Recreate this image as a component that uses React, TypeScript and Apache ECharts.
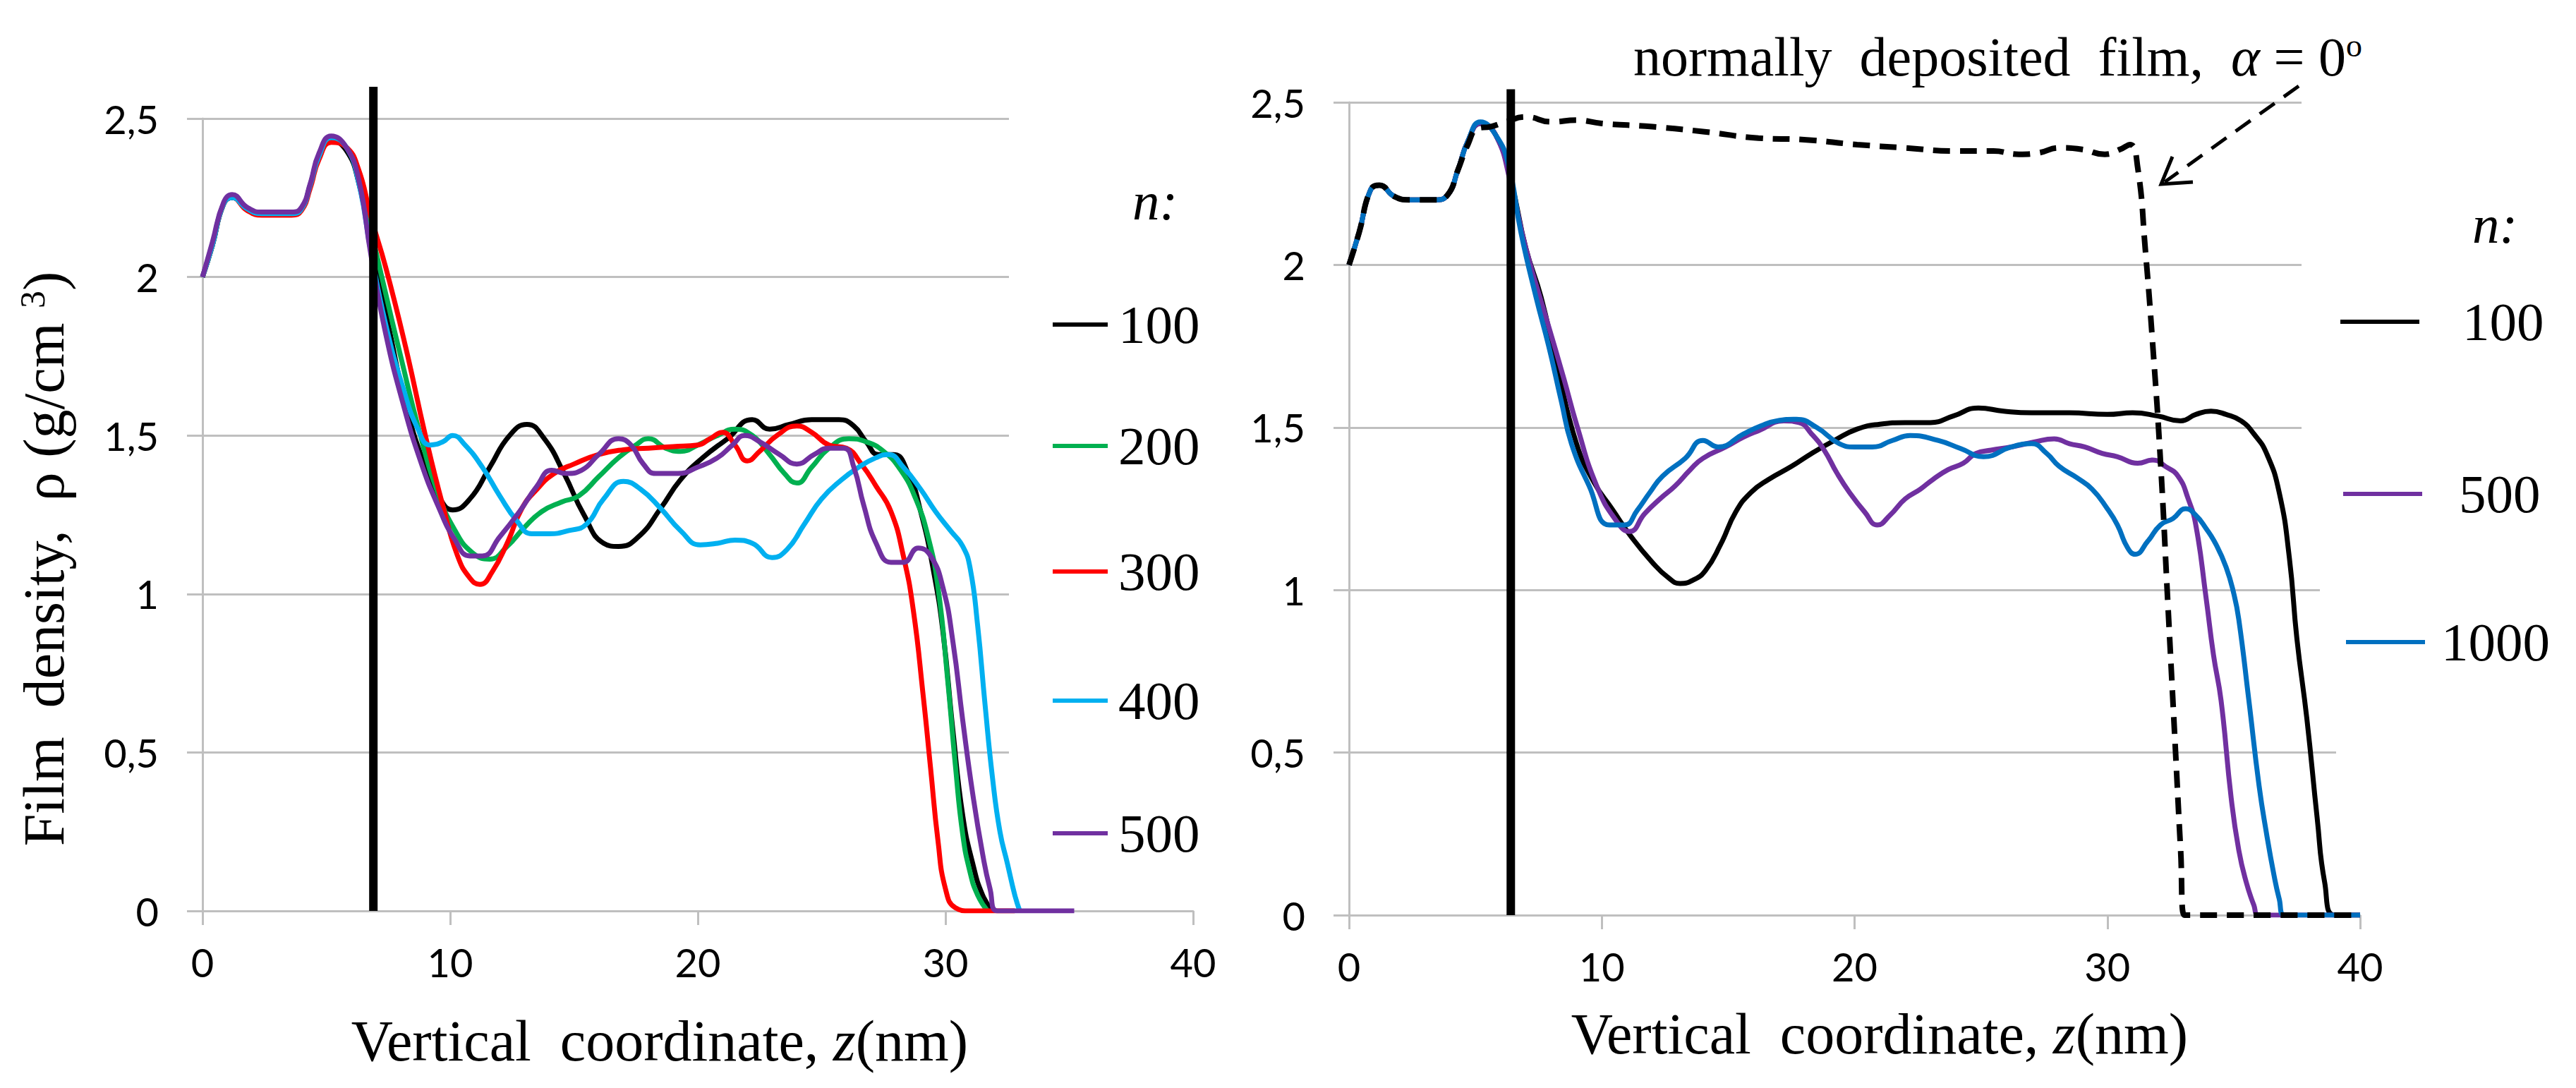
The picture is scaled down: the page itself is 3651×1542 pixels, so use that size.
import React, { useEffect, useRef } from "react";
import * as echarts from "echarts";

// ---------------- data ----------------
const xTicks = [0, 10, 20, 30, 40];
const yTicks = [0, 0.5, 1, 1.5, 2, 2.5];

const leftNames = ["100", "200", "300", "400", "500"];
const leftColors = ["#000000", "#00b050", "#ff0000", "#00b0f0", "#7030a0"];

const left100: [number, number][] = [
  [0, 2.0], [0.4, 2.1], [0.85, 2.23], [1.2, 2.25], [1.8, 2.215], [2.4, 2.2], [3.6, 2.2], [4.0, 2.215],
  [4.35, 2.29], [4.7, 2.38], [5.2, 2.43], [5.8, 2.4], [6.3, 2.3], [6.8, 2.1], [7.5, 1.85], [8.2, 1.6],
  [9.0, 1.4], [9.6, 1.3], [10.1, 1.265], [10.8, 1.3], [11.6, 1.4], [12.4, 1.5], [13.1, 1.535], [13.8, 1.49],
  [14.6, 1.38], [15.4, 1.25], [16.2, 1.16], [16.8, 1.15], [17.6, 1.18], [18.5, 1.27], [19.3, 1.36], [20.2, 1.43],
  [21.2, 1.49], [22.2, 1.55], [22.9, 1.52], [23.7, 1.535], [24.6, 1.55], [25.7, 1.55], [26.3, 1.53], [26.8, 1.48],
  [27.3, 1.44], [27.9, 1.44], [28.5, 1.38], [29.0, 1.26], [29.5, 1.08], [29.9, 0.88], [30.3, 0.57], [30.7, 0.3],
  [31.1, 0.15], [31.5, 0.05], [31.9, 0.0],
];
const left200: [number, number][] = [
  [0, 2.0], [0.4, 2.1], [0.85, 2.23], [1.2, 2.25], [1.8, 2.215], [2.4, 2.2], [3.6, 2.2], [4.0, 2.215],
  [4.35, 2.29], [4.7, 2.38], [5.2, 2.43], [5.8, 2.41], [6.3, 2.32], [6.8, 2.15], [7.3, 1.98], [8.0, 1.75],
  [8.8, 1.5], [9.5, 1.32], [10.2, 1.2], [10.9, 1.13], [11.6, 1.11], [12.3, 1.15], [13.0, 1.21], [13.7, 1.26],
  [14.5, 1.29], [15.2, 1.31], [16.0, 1.37], [16.8, 1.43], [17.5, 1.47], [18.0, 1.49], [18.7, 1.46], [19.3, 1.45],
  [20.0, 1.47], [20.8, 1.5], [21.5, 1.52], [22.2, 1.5], [22.9, 1.44], [23.5, 1.38], [24.0, 1.35], [24.6, 1.4],
  [25.3, 1.46], [26.1, 1.49], [26.8, 1.48], [27.5, 1.45], [28.2, 1.39], [28.8, 1.3], [29.3, 1.18], [29.7, 1.02],
  [30.1, 0.72], [30.4, 0.46], [30.7, 0.24], [31.0, 0.12], [31.3, 0.05], [31.7, 0.0],
];
const left300: [number, number][] = [
  [0, 2.0], [0.4, 2.1], [0.85, 2.23], [1.2, 2.25], [1.8, 2.21], [2.4, 2.195], [3.6, 2.195], [4.0, 2.21],
  [4.35, 2.28], [4.7, 2.37], [5.2, 2.425], [5.8, 2.41], [6.3, 2.34], [6.8, 2.19], [7.4, 2.03], [8.2, 1.78],
  [9.0, 1.5], [9.7, 1.28], [10.3, 1.12], [10.8, 1.05], [11.2, 1.03], [11.7, 1.07], [12.3, 1.16], [12.9, 1.27],
  [13.5, 1.33], [14.2, 1.38], [15.0, 1.41], [16.0, 1.44], [17.0, 1.455], [18.0, 1.46], [19.0, 1.465], [20.0, 1.47],
  [20.5, 1.49], [21.0, 1.51], [21.5, 1.47], [22.0, 1.42], [22.5, 1.45], [23.2, 1.5], [24.0, 1.53], [24.6, 1.51],
  [25.3, 1.47], [26.0, 1.46], [26.6, 1.41], [27.2, 1.34], [27.8, 1.26], [28.3, 1.12], [28.7, 0.95], [29.1, 0.68],
  [29.4, 0.45], [29.7, 0.22], [30.0, 0.07], [30.4, 0.01], [31.0, 0.0], [32.8, 0.0],
];
const left400: [number, number][] = [
  [0, 2.0], [0.4, 2.1], [0.85, 2.23], [1.2, 2.25], [1.8, 2.215], [2.4, 2.2], [3.6, 2.2], [4.0, 2.215],
  [4.35, 2.29], [4.7, 2.38], [5.2, 2.44], [5.8, 2.41], [6.3, 2.3], [6.8, 2.08], [7.4, 1.85], [8.1, 1.65],
  [8.7, 1.52], [9.2, 1.47], [9.7, 1.48], [10.1, 1.5], [10.6, 1.47], [11.3, 1.4], [12.0, 1.31], [12.7, 1.23],
  [13.3, 1.19], [14.0, 1.19], [14.8, 1.2], [15.5, 1.22], [16.2, 1.3], [17.0, 1.355], [17.7, 1.33], [18.5, 1.27],
  [19.3, 1.2], [20.1, 1.155], [20.8, 1.16], [21.5, 1.17], [22.2, 1.16], [23.0, 1.115], [23.6, 1.14], [24.3, 1.22],
  [25.0, 1.3], [25.8, 1.36], [26.5, 1.4], [27.2, 1.43], [27.7, 1.44], [28.3, 1.4], [29.0, 1.33], [29.6, 1.26],
  [30.2, 1.2], [30.7, 1.15], [31.0, 1.08], [31.3, 0.9], [31.6, 0.65], [31.9, 0.42], [32.2, 0.25], [32.5, 0.15],
  [32.8, 0.05], [33.0, 0.0],
];
const left500: [number, number][] = [
  [0, 2.0], [0.4, 2.11], [0.85, 2.235], [1.2, 2.26], [1.8, 2.22], [2.4, 2.205], [3.6, 2.205], [4.0, 2.22],
  [4.35, 2.295], [4.7, 2.39], [5.2, 2.445], [5.8, 2.41], [6.3, 2.31], [6.8, 2.07], [7.4, 1.82], [8.1, 1.6],
  [8.8, 1.42], [9.5, 1.28], [10.2, 1.17], [10.8, 1.12], [11.3, 1.12], [12.0, 1.18], [12.8, 1.26], [13.5, 1.34],
  [14.1, 1.39], [14.7, 1.38], [15.3, 1.39], [16.0, 1.44], [16.8, 1.49], [17.3, 1.47], [17.8, 1.41], [18.3, 1.38],
  [19.2, 1.38], [20.0, 1.4], [20.8, 1.43], [21.4, 1.47], [21.9, 1.5], [22.5, 1.48], [23.3, 1.44], [24.0, 1.41],
  [24.7, 1.44], [25.3, 1.46], [25.9, 1.46], [26.3, 1.4], [26.7, 1.28], [27.2, 1.16], [27.8, 1.1], [28.3, 1.1],
  [28.9, 1.145], [29.4, 1.12], [29.9, 1.02], [30.3, 0.85], [30.7, 0.6], [31.1, 0.37], [31.5, 0.18], [31.8, 0.07],
  [32.1, 0.0], [35.2, 0.0],
];
const leftMarkerZ = 6.9;
const leftMarkerTop = 2.6;

const rightNames = ["100", "500", "1000"];
const rightColors = ["#000000", "#7030a0", "#0070c0"];

const right100: [number, number][] = [
  [0, 2.0], [0.4, 2.1], [0.85, 2.23], [1.2, 2.245], [1.8, 2.21], [2.4, 2.2], [3.4, 2.2], [3.9, 2.215],
  [4.3, 2.29], [4.7, 2.38], [5.2, 2.435], [5.8, 2.4], [6.4, 2.26], [7.0, 2.05], [7.6, 1.9], [8.2, 1.7],
  [9.0, 1.45], [9.7, 1.33], [10.4, 1.25], [11.2, 1.16], [12.0, 1.085], [12.6, 1.04], [13.1, 1.02], [13.6, 1.03],
  [14.1, 1.06], [14.7, 1.14], [15.3, 1.24], [15.9, 1.3], [16.6, 1.34], [17.5, 1.38], [18.3, 1.42], [19.2, 1.46],
  [20.1, 1.495], [21.0, 1.51], [22.0, 1.515], [23.0, 1.515], [23.9, 1.535], [24.9, 1.56], [25.9, 1.55], [27.0, 1.545],
  [28.5, 1.545], [30.0, 1.54], [31.0, 1.545], [32.0, 1.535], [32.9, 1.52], [33.5, 1.54], [34.1, 1.55], [34.7, 1.54],
  [35.3, 1.52], [35.8, 1.48], [36.3, 1.42], [36.8, 1.3], [37.2, 1.1], [37.5, 0.85], [37.9, 0.6], [38.3, 0.3],
  [38.6, 0.1], [39.0, 0.0], [40, 0.0],
];
const right500: [number, number][] = [
  [0, 2.0], [0.4, 2.1], [0.85, 2.23], [1.2, 2.245], [1.8, 2.21], [2.4, 2.2], [3.4, 2.2], [3.9, 2.215],
  [4.3, 2.29], [4.7, 2.38], [5.2, 2.435], [5.8, 2.4], [6.4, 2.25], [7.0, 2.05], [7.9, 1.81], [8.5, 1.65],
  [9.0, 1.51], [9.8, 1.32], [10.6, 1.21], [11.1, 1.18], [11.7, 1.235], [12.3, 1.28], [12.9, 1.32], [13.5, 1.37],
  [14.0, 1.405], [14.9, 1.44], [15.6, 1.47], [16.2, 1.49], [17.2, 1.52], [17.8, 1.515], [18.3, 1.48], [18.8, 1.43],
  [19.3, 1.36], [19.8, 1.3], [20.4, 1.24], [20.9, 1.2], [21.4, 1.23], [22.0, 1.28], [22.6, 1.31], [23.1, 1.34],
  [23.7, 1.37], [24.3, 1.39], [24.8, 1.42], [25.4, 1.43], [26.2, 1.44], [27.1, 1.455], [27.9, 1.465], [28.5, 1.45],
  [29.1, 1.44], [29.8, 1.42], [30.4, 1.41], [31.2, 1.39], [31.8, 1.4], [32.3, 1.38], [32.8, 1.35], [33.2, 1.28],
  [33.5, 1.2], [33.9, 0.98], [34.2, 0.8], [34.5, 0.66], [34.9, 0.36], [35.2, 0.2], [35.5, 0.1], [35.8, 0.03],
  [36.0, 0.0], [40, 0.0],
];
const right1000: [number, number][] = [
  [0, 2.0], [0.4, 2.1], [0.85, 2.23], [1.2, 2.245], [1.8, 2.21], [2.4, 2.2], [3.4, 2.2], [3.9, 2.215],
  [4.3, 2.29], [4.7, 2.38], [5.2, 2.44], [5.8, 2.4], [6.3, 2.31], [6.8, 2.1], [7.4, 1.9], [7.9, 1.75],
  [8.4, 1.58], [8.8, 1.45], [9.5, 1.32], [10.3, 1.2], [10.9, 1.2], [11.4, 1.245], [11.9, 1.3], [12.4, 1.35],
  [13.3, 1.405], [14.0, 1.46], [14.6, 1.44], [15.6, 1.48], [16.3, 1.505], [16.9, 1.52], [17.7, 1.525], [18.5, 1.5],
  [19.4, 1.45], [20.0, 1.44], [20.7, 1.44], [21.5, 1.46], [22.2, 1.475], [23.3, 1.46], [24.2, 1.435], [25.1, 1.41],
  [26.2, 1.44], [27.0, 1.45], [27.6, 1.42], [28.1, 1.38], [28.8, 1.345], [29.4, 1.31], [30.0, 1.25], [30.4, 1.2],
  [30.8, 1.13], [31.1, 1.11], [31.6, 1.15], [32.1, 1.2], [32.6, 1.22], [33.1, 1.25], [33.5, 1.23], [33.9, 1.19],
  [34.3, 1.14], [34.7, 1.07], [35.0, 0.99], [35.2, 0.91], [35.6, 0.66], [36.0, 0.4], [36.3, 0.25], [36.6, 0.12],
  [36.8, 0.05], [37.0, 0.0], [40, 0.0],
];
const rightNormal: [number, number][] = [
  [0, 2.0], [0.4, 2.1], [0.85, 2.23], [1.2, 2.245], [1.8, 2.21], [2.4, 2.2], [3.4, 2.2], [3.9, 2.215],
  [4.3, 2.29], [4.7, 2.37], [5.1, 2.42], [5.6, 2.425], [6.2, 2.44], [7.0, 2.455], [8.0, 2.44], [9.0, 2.445],
  [10.0, 2.435], [12.0, 2.425], [14.0, 2.41], [16.2, 2.39], [18.0, 2.385], [20.1, 2.37], [22.0, 2.36], [24.0, 2.35],
  [25.5, 2.35], [26.5, 2.34], [27.3, 2.345], [28.1, 2.36], [29.0, 2.355], [29.9, 2.34], [30.5, 2.355], [30.9, 2.37],
  [31.2, 2.3], [31.5, 2.05], [31.8, 1.75], [32.1, 1.4], [32.4, 0.95], [32.7, 0.5], [32.9, 0.2], [33.05, 0.0],
  [40, 0.0],
];
const rightMarkerZ = 6.4;
const rightMarkerTop = 2.54;

// ---------------- styling ----------------
const SERIF = "Liberation Serif, serif";
const SANS = "Lato, sans-serif";
const GRID_GRAY = "#bfbfbf";
const fmt = (v: number) => String(v).replace(".", ",");

function xAxisFor(gridIndex: number) {
  return {
    type: "value",
    gridIndex,
    min: xTicks[0],
    max: xTicks[xTicks.length - 1],
    interval: 10,
    axisLine: { show: true, lineStyle: { color: GRID_GRAY, width: 3 } },
    axisTick: { show: true, length: 20, lineStyle: { color: GRID_GRAY, width: 3 } },
    splitLine: { show: false },
    axisLabel: { fontFamily: SANS, fontSize: 56, color: "#000", margin: 44, formatter: fmt },
  };
}
function yAxisFor(gridIndex: number) {
  return {
    type: "value",
    gridIndex,
    min: yTicks[0],
    max: yTicks[yTicks.length - 1],
    interval: 0.5,
    axisLine: { show: true, lineStyle: { color: GRID_GRAY, width: 3 } },
    axisTick: { show: true, length: 22, lineStyle: { color: GRID_GRAY, width: 3 } },
    splitLine: { show: true, lineStyle: { color: GRID_GRAY, width: 3 } },
    axisLabel: { fontFamily: SANS, fontSize: 56, color: "#000", margin: 62, formatter: fmt },
  };
}

function curve(name: string, color: string, data: [number, number][], idx: number, extra: any = {}) {
  return {
    type: "line",
    name,
    xAxisIndex: idx,
    yAxisIndex: idx,
    data,
    color,
    symbol: "none",
    showSymbol: false,
    smooth: 0.5,
    lineStyle: { width: 7, color },
    z: 2,
    ...extra,
  };
}

function legendItem(name: string, left: number, cy: number, w: number, pad: number) {
  return {
    orient: "vertical",
    left,
    top: cy - 39,
    padding: 0,
    itemGap: 0,
    itemWidth: w,
    itemHeight: 6,
    icon: "rect",
    selectedMode: false,
    data: [name],
    textStyle: { fontFamily: SERIF, fontSize: 77, lineHeight: 78, color: "#000", padding: [0, 0, 0, pad] },
  };
}

export default function App() {
  const ref = useRef<HTMLDivElement>(null);
  useEffect(() => {
    if (!ref.current) return;
    const chart = echarts.init(ref.current, null, { renderer: "svg" });

    const leftData = [left100, left200, left300, left400, left500];
    const rightData = [right100, right500, right1000];

    const series: any[] = [];
    leftNames.forEach((n, i) => series.push(curve(n, leftColors[i], leftData[i], 0)));
    series.push({
      type: "line", name: "marker-left", xAxisIndex: 0, yAxisIndex: 0,
      data: [[leftMarkerZ, 0], [leftMarkerZ, leftMarkerTop]],
      symbol: "none", clip: false, silent: true, lineStyle: { width: 12, color: "#000" }, color: "#000", z: 4,
    });
    rightNames.forEach((n, i) => series.push(curve(n, rightColors[i], rightData[i], 1)));
    series.push(curve("normal", "#000", rightNormal, 1, {
      lineStyle: { width: 8, color: "#000", type: [24, 14] }, z: 3,
    }));
    series.push({
      type: "line", name: "marker-right", xAxisIndex: 1, yAxisIndex: 1,
      data: [[rightMarkerZ, 0], [rightMarkerZ, rightMarkerTop]],
      symbol: "none", clip: false, silent: true, lineStyle: { width: 12, color: "#000" }, color: "#000", z: 4,
    });

    const leftLegendY = [460, 632, 810, 993, 1181];
    const rightLegendY = [456, 700, 910];
    const rightLegendLeft = [3317, 3321, 3325];
    const rightLegendPad = [56, 47, 18];

    const legends: any[] = [];
    leftNames.forEach((n, i) => legends.push(legendItem(n, 1492, leftLegendY[i], 78, 10)));
    rightNames.forEach((n, i) => legends.push(legendItem(n, rightLegendLeft[i], rightLegendY[i], 112, rightLegendPad[i])));

    const titleRich = {
      a: { fontFamily: SERIF, fontSize: 82, fill: "#000" },
      i: { fontFamily: SERIF, fontSize: 82, fontStyle: "italic", fill: "#000" },
      s: { fontFamily: SERIF, fontSize: 50, fill: "#000", verticalAlign: "top", padding: [0, 0, 30, 0] },
    };

    const option: any = {
      animation: false,
      backgroundColor: "#ffffff",
      grid: [
        { left: 287, top: 168, width: 1404, height: 1123, containLabel: false },
        { left: 1912, top: 145, width: 1433, height: 1152, containLabel: false },
      ],
      xAxis: [xAxisFor(0), xAxisFor(1)],
      yAxis: [yAxisFor(0), yAxisFor(1)],
      legend: legends,
      series,
      graphic: [
        // legend boxes hiding the gridlines
        { type: "rect", z: 1, silent: true, shape: { x: 1430, y: 120, width: 280, height: 1150 }, style: { fill: "#fff" } },
        { type: "rect", z: 1, silent: true, shape: { x: 3262, y: 100, width: 110, height: 720 }, style: { fill: "#fff" } },
        { type: "rect", z: 1, silent: true, shape: { x: 3288, y: 820, width: 90, height: 230 }, style: { fill: "#fff" } },
        { type: "rect", z: 1, silent: true, shape: { x: 3311, y: 1050, width: 60, height: 120 }, style: { fill: "#fff" } },
        // axis titles
        {
          type: "text", x: 62, y: 792, rotation: Math.PI / 2, z: 10,
          style: {
            text: "{a|Film  density,  ρ (g/cm }{s|3}{a|)}",
            fontFamily: SERIF, fontSize: 82,
            rich: titleRich, align: "center", verticalAlign: "middle",
          },
        },
        {
          type: "text", x: 935, y: 1475, z: 10,
          style: { text: "{a|Vertical  coordinate, }{i|z}{a|(nm)}", fontFamily: SERIF, fontSize: 82, rich: titleRich, align: "center", verticalAlign: "middle" },
        },
        {
          type: "text", x: 2664, y: 1465, z: 10,
          style: { text: "{a|Vertical  coordinate, }{i|z}{a|(nm)}", fontFamily: SERIF, fontSize: 82, rich: titleRich, align: "center", verticalAlign: "middle" },
        },
        // legend headers
        {
          type: "text", x: 1637, y: 285, z: 10,
          style: { text: "n:", fontFamily: SERIF, fontSize: 77, fontStyle: "italic", fill: "#000", align: "center", verticalAlign: "middle" },
        },
        {
          type: "text", x: 3536, y: 318, z: 10,
          style: { text: "n:", fontFamily: SERIF, fontSize: 77, fontStyle: "italic", fill: "#000", align: "center", verticalAlign: "middle" },
        },
        // annotation
        {
          type: "text", x: 2315, y: 80, z: 10,
          style: {
            text: "{a|normally  deposited  film,  }{i|α}{a| = 0}{s|o}",
            fontFamily: SERIF, fontSize: 78,
            rich: {
              a: { fontFamily: SERIF, fontSize: 78, fill: "#000" },
              i: { fontFamily: SERIF, fontSize: 78, fontStyle: "italic", fill: "#000" },
              s: { fontFamily: SERIF, fontSize: 46, fill: "#000", verticalAlign: "top", padding: [0, 0, 30, 0] },
            },
            align: "left", verticalAlign: "middle",
          },
        },
        {
          type: "line", z: 10, silent: true,
          shape: { x1: 3258, y1: 122, x2: 3068, y2: 258 },
          style: { stroke: "#000", lineWidth: 5, lineDash: [26, 16] },
        },
        {
          type: "polyline", z: 10, silent: true,
          shape: { points: [[3079, 222], [3063, 261], [3108, 258]] },
          style: { stroke: "#000", lineWidth: 5, fill: "none" },
        },
      ],
    };
    chart.setOption(option);
    return () => chart.dispose();
  }, []);

  return (
    <div
      ref={ref}
      style={{ position: "absolute", left: 0, top: 0, width: 3651, height: 1542, background: "#fff" }}
    />
  );
}
